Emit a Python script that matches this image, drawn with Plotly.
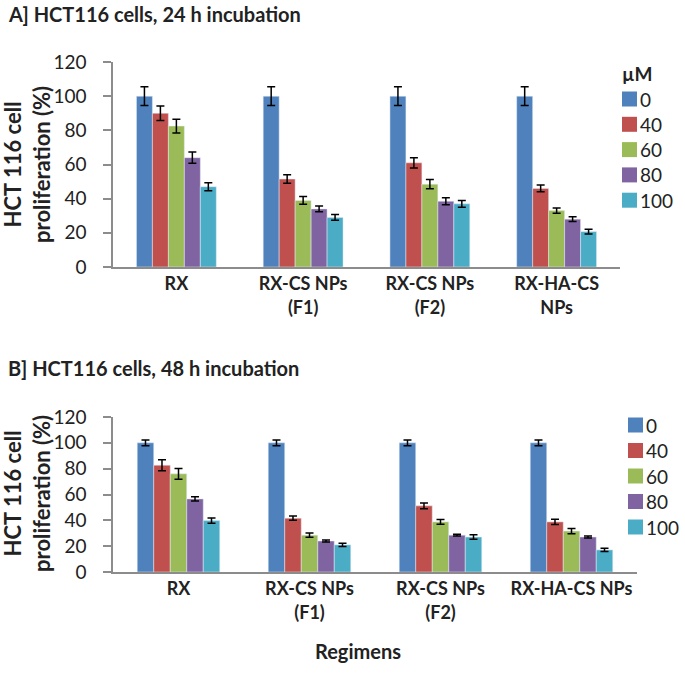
import plotly.graph_objects as go

W, H = 685, 684

categories_top = ["RX", "RX-CS NPs<br>(F1)", "RX-CS NPs<br>(F2)", "RX-HA-CS<br>NPs"]
categories_bot = ["RX", "RX-CS NPs<br>(F1)", "RX-CS NPs<br>(F2)", "RX-HA-CS NPs"]
doses = ["0", "40", "60", "80", "100"]
colors = ["#4F81BD", "#C0504D", "#9BBB59", "#8064A2", "#4BACC6"]
y_ticks = [0, 20, 40, 60, 80, 100, 120]

# 24 h values per dose (order: RX, F1, F2, HA)
vals_24 = {
    "0":   [100, 100, 100, 100],
    "40":  [90, 51.5, 61, 46],
    "60":  [82.5, 39, 48.5, 33],
    "80":  [64, 34, 38.5, 28],
    "100": [47, 29, 37, 20.7],
}
err_24 = {
    "0":   [5.5, 5.5, 5.5, 5.5],
    "40":  [4.3, 2.5, 3.0, 2.0],
    "60":  [4.0, 2.3, 2.7, 1.5],
    "80":  [3.3, 1.7, 2.0, 1.4],
    "100": [2.3, 1.7, 2.0, 1.4],
}
# 48 h
vals_48 = {
    "0":   [100, 100, 100, 100],
    "40":  [82.7, 41.7, 51.2, 38.8],
    "60":  [76, 28.5, 38.8, 31.7],
    "80":  [56.6, 24, 28.5, 27.1],
    "100": [39.8, 21, 27.1, 17.1],
}
err_48 = {
    "0":   [2.2, 2.2, 2.2, 2.2],
    "40":  [4.3, 1.7, 2.3, 2.0],
    "60":  [4.1, 1.6, 1.8, 2.0],
    "80":  [1.6, 0.8, 0.7, 0.7],
    "100": [2.0, 1.2, 1.8, 1.3],
}

FONT = "Lato"
TXT = "#222222"
fig = go.Figure()

for d, c in zip(doses, colors):
    fig.add_trace(go.Bar(
        x=categories_top, y=vals_24[d], name=d, marker_color=c,
        error_y=dict(type="data", array=err_24[d], color="black", thickness=1.5, width=4),
        xaxis="x", yaxis="y", showlegend=False,
    ))
for d, c in zip(doses, colors):
    fig.add_trace(go.Bar(
        x=categories_bot, y=vals_48[d], name=d, marker_color=c,
        error_y=dict(type="data", array=err_48[d], color="black", thickness=1.5, width=4),
        xaxis="x2", yaxis="y2", showlegend=False,
    ))

def px_x(p):
    return p / W

def px_y(p):
    return 1 - p / H

axis_common = dict(showline=True, linecolor="#8C8C8C", linewidth=1.5,
                   showgrid=False, zeroline=False, automargin=False)
yaxis_common = dict(range=[0, 120], tickvals=y_ticks, ticks="outside", ticklen=8,
                    tickcolor="#8C8C8C", tickwidth=1.5, tickfont=dict(size=19),
                    ticklabelstandoff=13, **axis_common)

fig.update_layout(
    width=W, height=H, margin=dict(l=0, r=0, t=0, b=0, autoexpand=False),
    plot_bgcolor="white", paper_bgcolor="white",
    barmode="group", bargap=0.37, bargroupgap=0,
    font=dict(family=FONT, color=TXT),
    showlegend=False,
    xaxis=dict(domain=[px_x(113), px_x(620)], anchor="y",
               tickfont=dict(size=18, weight="bold"), ticks="", **axis_common),
    yaxis=dict(domain=[px_y(267), px_y(62)], anchor="x", **yaxis_common),
    xaxis2=dict(domain=[px_x(113), px_x(637)], anchor="y2",
                tickfont=dict(size=18, weight="bold"), ticks="", **axis_common),
    yaxis2=dict(domain=[px_y(572), px_y(417)], anchor="x2", **yaxis_common),
)

annots = [
    dict(text="<b>A] HCT116 cells, 24 h incubation</b>", x=px_x(6), y=px_y(14),
         xanchor="left", yanchor="middle", font=dict(size=20)),
    dict(text="<b>B] HCT116 cells, 48 h incubation</b>", x=px_x(6), y=px_y(368),
         xanchor="left", yanchor="middle", font=dict(size=20)),
    dict(text="<b>HCT 116 cell<br>proliferation (%)</b>", x=px_x(27), y=px_y(165),
         textangle=-90, xanchor="center", yanchor="middle", font=dict(size=22)),
    dict(text="<b>HCT 116 cell<br>proliferation (%)</b>", x=px_x(27), y=px_y(494),
         textangle=-90, xanchor="center", yanchor="middle", font=dict(size=22)),
    dict(text="<b>Regimens</b>", x=px_x(358), y=px_y(651),
         xanchor="center", yanchor="middle", font=dict(size=20)),
    dict(text="<b>µM</b>", x=px_x(620), y=px_y(73),
         xanchor="left", yanchor="middle", font=dict(size=19)),
]

# custom legends (swatch + label), one per panel
legend_specs = [
    dict(x0=622, y_first=99, step=25.3),
    dict(x0=628, y_first=425, step=25.5),
]
shapes = []
for spec in legend_specs:
    for i, (d, c) in enumerate(zip(doses, colors)):
        yc = spec["y_first"] + i * spec["step"]
        shapes.append(dict(type="rect", xref="paper", yref="paper",
                           x0=px_x(spec["x0"]), x1=px_x(spec["x0"] + 15),
                           y0=px_y(yc + 7.5), y1=px_y(yc - 7.5),
                           fillcolor=c, line=dict(width=0)))
        annots.append(dict(text=d, x=px_x(spec["x0"] + 16), y=px_y(yc),
                           xanchor="left", yanchor="middle", font=dict(size=19)))

for a in annots:
    a.update(xref="paper", yref="paper", showarrow=False)
    fig.add_annotation(**a)
fig.update_layout(shapes=shapes)

fig.write_html("out.html", config={"displayModeBar": False},
               post_script="document.body.style.margin='0';document.body.style.overflow='hidden';")
